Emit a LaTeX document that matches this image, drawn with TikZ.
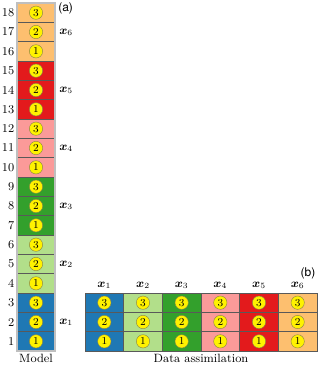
\documentclass[tikz,border=0pt]{standalone}
\usepackage{amsmath,bm}
\usepackage{fontspec}
\newfontfamily\helv{TeX Gyre Heros}
\definecolor{c1}{HTML}{1F78B4}
\definecolor{c2}{HTML}{B2DF8A}
\definecolor{c3}{HTML}{33A02C}
\definecolor{c4}{HTML}{FB9A99}
\definecolor{c5}{HTML}{E31A1C}
\definecolor{c6}{HTML}{FDBF6F}
\begin{document}
\begin{tikzpicture}[x=0.75pt,y=-0.75pt,
  lcell/.style={draw=black!65, line width=0.4pt, minimum width=28.5pt, minimum height=14.5pt, inner sep=0pt, outer sep=0pt},
  rcell/.style={draw=black!65, line width=0.4pt, minimum width=29pt, minimum height=14.5pt, inner sep=0pt, outer sep=0pt},
  dot/.style={circle, fill=yellow, draw=yellow!45!black, line width=0.3pt, minimum size=10pt, inner sep=0pt, font=\fontsize{8}{8}\selectfont},
  rownum/.style={anchor=east, inner sep=0pt, font=\fontsize{9}{10}\selectfont},
  varlab/.style={inner sep=0pt, font=\fontsize{9}{10}\selectfont},
  captxt/.style={inner sep=0pt, font=\fontsize{9}{10}\selectfont}]
\useasboundingbox (0,0) rectangle (320,366);
% left column (Model)
\foreach \i in {1,...,18}{
  \pgfmathtruncatemacro\g{int((\i-1)/3)+1}
  \pgfmathtruncatemacro\k{mod(\i-1,3)+1}
  \node[lcell, fill=c\g] (L\i) at (36,{351-(\i-0.5)*19.333}) {};
  \node[dot] (LD\i) at (L\i.center) {\k};
  \node[rownum] (N\i) at (14.5,{351-(\i-0.5)*19.333}) {\i};
}
\draw[black!25, line width=0.9pt] (L18.north west) rectangle (L1.south east);
\foreach \g in {1,...,6}{
  \pgfmathtruncatemacro\m{3*\g-1}
  \node[varlab, anchor=west] (LX\g) at (59,{351-(\m-0.5)*19.333}) {$\bm{x}_{\g}$};
}
\node[inner sep=0pt, anchor=west, font=\helv\fontsize{9}{10}\selectfont] (a) at (58,8) {(a)};
\node[captxt] (model) at (36,358.5) {Model};
% right panel (Data assimilation)
\foreach \j in {1,...,6}{
  \foreach \k in {1,2,3}{
    \node[rcell, fill=c\j] (R\j\k) at ({85+(\j-0.5)*38.667},{351-(\k-0.5)*19.333}) {};
    \node[dot] (RD\j\k) at (R\j\k.center) {\k};
  }
  \node[varlab] (RX\j) at ({85+(\j-0.5)*38.667},285) {$\bm{x}_{\j}$};
}
\node[inner sep=0pt, font=\helv\fontsize{9}{10}\selectfont] (b) at (308,273) {(b)};
\node[captxt] (da) at (201,358.5) {Data assimilation};
\end{tikzpicture}
\end{document}
